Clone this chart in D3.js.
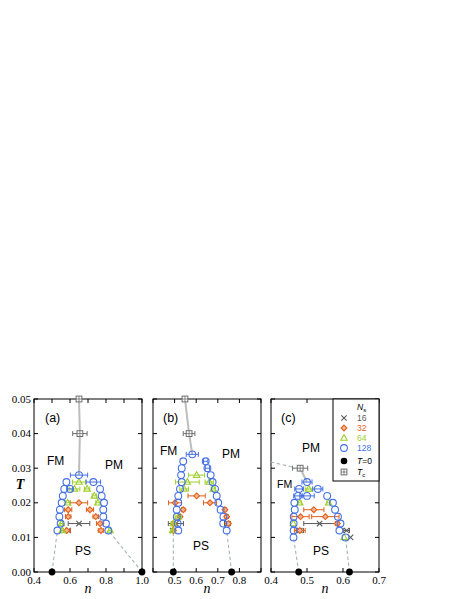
<!DOCTYPE html>
<html><head><meta charset="utf-8">
<script src="https://cdn.jsdelivr.net/npm/d3@7"></script>
<style>body{margin:0;background:#fff}</style>
</head><body>
<svg id="chart" width="463" height="599"></svg>
<script>
// ---------- data ----------
const yTicks = [0, 0.01, 0.02, 0.03, 0.04, 0.05];
const yTickLabels = ["0.00", "0.01", "0.02", "0.03", "0.04", "0.05"];
const panelLabels = ["(a)", "(b)", "(c)"];
const xDomains = [[0.4, 1.0], [0.4, 0.9], [0.4, 0.7]];
const xTickVals = [[0.4,0.5,0.6,0.7,0.8,0.9,1.0],[0.4,0.5,0.6,0.7,0.8,0.9],[0.4,0.5,0.6,0.7]];
const xTickLabeled = [[0.4,0.6,0.8,1.0],[0.5,0.6,0.7,0.8],[0.4,0.5,0.6,0.7]];
const legendSizes = ["16", "32", "64", "128"];

// each point: [n, T, horizontal error]
const a16 = [[0.65,0.014,0.06],[0.59,0.012,0.012]];
const a32 = [[0.65,0.020,0.048],[0.59,0.018,0.02],[0.711,0.018,0.02],[0.59,0.016,0.015],[0.743,0.016,0.015],
             [0.767,0.014,0.02],[0.582,0.012,0.02],[0.772,0.012,0.015]];
const a64 = [[0.65,0.026,0.036],[0.625,0.024,0.03],[0.695,0.024,0.015],[0.735,0.022,0.012],[0.587,0.020,0.012],
             [0.755,0.020,0.012],[0.552,0.014,0.006],[0.557,0.012,0.006],[0.822,0.012,0.006]];
const a128 = [[0.65,0.028,0.048],[0.58,0.026,0],[0.73,0.026,0.04],[0.568,0.024,0],[0.60,0.024,0.015],[0.767,0.024,0],
              [0.56,0.022,0],[0.776,0.022,0],[0.554,0.020,0],[0.789,0.020,0],[0.544,0.018,0],[0.785,0.018,0],
              [0.541,0.016,0],[0.785,0.016,0],[0.548,0.014,0],[0.80,0.014,0],[0.53,0.012,0],[0.813,0.012,0]];
const aTc = [[0.65,0.05,0],[0.655,0.04,0.04]];
const aTcLine = [[0.65,0.05],[0.655,0.04],[0.65,0.028]];
const aT0 = [0.5, 1.0];
const aDash = [[[0.5,0],[0.53,0.012]],[[1.0,0],[0.813,0.012]]];

const b16 = [[0.506,0.014,0.035],[0.745,0.014,0.014],[0.491,0.012,0.005]];
const b32 = [[0.602,0.022,0.04],[0.502,0.020,0.03],[0.664,0.020,0.03],[0.54,0.018,0.008],[0.733,0.018,0.008],
             [0.525,0.016,0.008],[0.741,0.016,0.008],[0.494,0.014,0.008],[0.749,0.014,0.008],[0.495,0.012,0.005]];
const b64 = [[0.602,0.028,0.037],[0.559,0.026,0.055],[0.661,0.026,0.02],[0.544,0.024,0.02],[0.679,0.024,0.01],
             [0.517,0.016,0.015],[0.494,0.014,0.01],[0.491,0.012,0.006]];
const b128 = [[0.582,0.034,0.028],[0.54,0.032,0],[0.644,0.032,0.01],[0.533,0.030,0],[0.652,0.030,0.01],
              [0.53,0.028,0],[0.667,0.028,0],[0.533,0.026,0],[0.676,0.026,0],[0.525,0.024,0],[0.687,0.024,0],
              [0.517,0.022,0],[0.695,0.022,0],[0.517,0.020,0],[0.702,0.020,0],[0.51,0.018,0],[0.713,0.018,0],
              [0.51,0.016,0],[0.726,0.016,0],[0.514,0.014,0],[0.725,0.014,0],[0.517,0.012,0],[0.741,0.012,0]];
const bTc = [[0.548,0.05,0],[0.567,0.04,0.027]];
const bTcLine = [[0.548,0.05],[0.567,0.04],[0.582,0.034]];
const bT0 = [0.494, 0.764];
const bDash = [[[0.494,0],[0.494,0.012]],[[0.764,0],[0.741,0.012]]];

const c16 = [[0.535,0.014,0.044],[0.48,0.012,0.01],[0.61,0.012,0.008],[0.621,0.010,0]];
const c32 = [[0.519,0.018,0.028],[0.482,0.016,0.024],[0.551,0.016,0.038],[0.584,0.014,0.005],[0.48,0.012,0.015]];
const c64 = [[0.505,0.024,0.01],[0.48,0.020,0.005],[0.56,0.020,0.005],[0.462,0.014,0],[0.603,0.010,0]];
const c128 = [[0.50,0.026,0.014],[0.478,0.024,0.012],[0.53,0.024,0.014],[0.475,0.022,0.012],[0.50,0.022,0.02],
              [0.556,0.022,0],[0.465,0.020,0],[0.572,0.020,0],[0.466,0.018,0],[0.578,0.018,0],
              [0.463,0.016,0],[0.586,0.016,0],[0.463,0.014,0],[0.593,0.014,0],[0.463,0.012,0],[0.59,0.012,0],
              [0.4625,0.010,0],[0.607,0.010,0]];
const cTc = [[0.481,0.030,0.021]];
const cTcLine = [[0.481,0.030],[0.50,0.026]];
const cT0 = [0.477, 0.618];
const cDash = [[[0.477,0],[0.4625,0.010]],[[0.618,0],[0.607,0.010]],[[0.40,0.0318],[0.46,0.0303]]];

// ---------- styling / layout ----------
const col = {s16:"#5b5b5b", s32:"#e2601c", s64:"#9fcf2c", s128:"#4470e6", tc:"#6e6e6e", line:"#bdbdbd", dash:"#a7b4b4"};
const plotTop = 399, plotBottom = 572;
const pxRanges = [[34,142],[153,261],[271,379]];
const svg = d3.select("#chart");
const yScale = d3.scaleLinear().domain([0,0.05]).range([plotBottom, plotTop]);

const panels = [
  {s16:a16,s32:a32,s64:a64,s128:a128,tc:aTc,tcLine:aTcLine,t0:aT0,dash:aDash,
   fm:[47,465,12], pm:[105,469,12], ps:[75,555,12], lab:[45,422]},
  {s16:b16,s32:b32,s64:b64,s128:b128,tc:bTc,tcLine:bTcLine,t0:bT0,dash:bDash,
   fm:[160,455,12], pm:[222,458,12], ps:[193,550,12], lab:[163,422]},
  {s16:c16,s32:c32,s64:c64,s128:c128,tc:cTc,tcLine:cTcLine,t0:cT0,dash:cDash,
   fm:[277,488,10.5], pm:[302,452,12], ps:[313,555,12], lab:[281,422]}
];

function marker(g, type, x, y) {
  if (type === "s16") {
    const d = 2.7;
    g.append("path").attr("d", `M${x-d},${y-d}L${x+d},${y+d}M${x-d},${y+d}L${x+d},${y-d}`)
      .attr("stroke", col.s16).attr("stroke-width", 1.1).attr("fill","none");
  } else if (type === "s32") {
    const d = 2.9;
    g.append("path").attr("d", `M${x},${y-d}L${x+d},${y}L${x},${y+d}L${x-d},${y}Z`)
      .attr("stroke", col.s32).attr("stroke-width", 1.1).attr("fill","#f3b48f");
  } else if (type === "s64") {
    const d = 3.4;
    g.append("path").attr("d", `M${x},${y-d}L${x+d*0.95},${y+d*0.65}L${x-d*0.95},${y+d*0.65}Z`)
      .attr("stroke", col.s64).attr("stroke-width", 1.1).attr("fill","none");
  } else if (type === "s128") {
    g.append("circle").attr("cx", x).attr("cy", y).attr("r", 3.4)
      .attr("stroke", col.s128).attr("stroke-width", 1.1).attr("fill","none");
  } else if (type === "tc") {
    const d = 2.9;
    g.append("rect").attr("x", x-d).attr("y", y-d).attr("width", 2*d).attr("height", 2*d)
      .attr("stroke", col.tc).attr("stroke-width", 1).attr("fill","#fff");
    g.append("path").attr("d", `M${x-d},${y}L${x+d},${y}M${x},${y-d}L${x},${y+d}`)
      .attr("stroke", col.tc).attr("stroke-width", 0.8);
  }
}

panels.forEach((p, i) => {
  const [x0, x1] = pxRanges[i];
  const xs = d3.scaleLinear().domain(xDomains[i]).range([x0, x1]);
  const g = svg.append("g");

  g.append("rect").attr("x", x0).attr("y", plotTop).attr("width", x1-x0).attr("height", plotBottom-plotTop)
    .attr("fill","none").attr("stroke","#000").attr("stroke-width",1);

  const tl = 4;
  xTickVals[i].forEach(v => {
    const x = xs(v);
    g.append("line").attr("x1",x).attr("x2",x).attr("y1",plotBottom).attr("y2",plotBottom-tl).attr("stroke","#000");
    g.append("line").attr("x1",x).attr("x2",x).attr("y1",plotTop).attr("y2",plotTop+tl).attr("stroke","#000");
  });
  xTickLabeled[i].forEach(v => {
    g.append("text").attr("x", xs(v)).attr("y", plotBottom+12).attr("text-anchor","middle")
      .attr("font-family","'Liberation Serif','Times New Roman',serif").attr("font-size",11)
      .text(d3.format(".1f")(v));
  });
  yTicks.forEach((v, k) => {
    const y = yScale(v);
    g.append("line").attr("x1",x0).attr("x2",x0+tl).attr("y1",y).attr("y2",y).attr("stroke","#000");
    g.append("line").attr("x1",x1).attr("x2",x1-tl).attr("y1",y).attr("y2",y).attr("stroke","#000");
    if (i === 0) {
      g.append("text").attr("x", x0-3).attr("y", y+3.5).attr("text-anchor","end")
        .attr("font-family","'Liberation Serif','Times New Roman',serif").attr("font-size",11)
        .text(yTickLabels[k]);
    }
  });

  g.append("text").attr("x", (x0+x1)/2).attr("y", 593).attr("text-anchor","middle")
    .attr("font-family","'Liberation Serif',serif").attr("font-style","italic").attr("font-size",14).text("n");

  p.dash.forEach(seg => {
    g.append("path").attr("d", d3.line().x(d=>xs(d[0])).y(d=>yScale(d[1]))(seg))
      .attr("stroke", col.dash).attr("stroke-width",1.1).attr("stroke-dasharray","3.5,2.5").attr("fill","none");
  });
  g.append("path").attr("d", d3.line().x(d=>xs(d[0])).y(d=>yScale(d[1]))(p.tcLine))
    .attr("stroke", col.line).attr("stroke-width",2).attr("fill","none");

  ["s16","s32","s64","s128","tc"].forEach(key => {
    const c = col[key];
    p[key].forEach(([n, T, e]) => {
      const x = xs(n), y = yScale(T);
      if (e > 0) {
        const xa = xs(n-e), xb = xs(n+e);
        g.append("line").attr("x1",xa).attr("x2",xb).attr("y1",y).attr("y2",y).attr("stroke",c).attr("stroke-width",1);
        g.append("line").attr("x1",xa).attr("x2",xa).attr("y1",y-2.5).attr("y2",y+2.5).attr("stroke",c).attr("stroke-width",1);
        g.append("line").attr("x1",xb).attr("x2",xb).attr("y1",y-2.5).attr("y2",y+2.5).attr("stroke",c).attr("stroke-width",1);
      }
      marker(g, key, x, y);
    });
  });

  p.t0.forEach(n => {
    g.append("circle").attr("cx", xs(n)).attr("cy", yScale(0)).attr("r", 3.4).attr("fill","#000");
  });

  const sans = "'Liberation Sans',Arial,Helvetica,sans-serif";
  [["FM",p.fm],["PM",p.pm],["PS",p.ps]].forEach(([t, pos]) => {
    g.append("text").attr("x",pos[0]).attr("y",pos[1]).attr("font-family",sans).attr("font-size",pos[2]).text(t);
  });
  g.append("text").attr("x",p.lab[0]).attr("y",p.lab[1]).attr("font-family",sans).attr("font-size",12.5).text(panelLabels[i]);
});

svg.append("text").attr("x", 20).attr("y", 489).attr("text-anchor","middle")
  .attr("font-family","'Liberation Serif',serif").attr("font-style","italic").attr("font-weight","bold")
  .attr("font-size",14).text("T");

const lg = svg.append("g");
lg.append("rect").attr("x",333).attr("y",plotTop).attr("width",379-333).attr("height",82)
  .attr("fill","#fff").attr("stroke","#000").attr("stroke-width",1);
const lsans = "'Liberation Sans',Arial,sans-serif";
const ns = lg.append("text").attr("x",357).attr("y",410).attr("font-family",lsans).attr("font-size",8.5);
ns.append("tspan").attr("font-style","italic").text("N");
ns.append("tspan").attr("font-size",6).attr("dy",2).text("s");
const legKeys = ["s16","s32","s64","s128"];
legKeys.forEach((k, j) => {
  const y = 418 + j*10;
  marker(lg, k, 344, y);
  lg.append("text").attr("x",357).attr("y",y+3).attr("font-family",lsans).attr("font-size",8.5)
    .attr("fill",col[k]).text(legendSizes[j]);
});
lg.append("circle").attr("cx",344).attr("cy",461).attr("r",3.3).attr("fill","#000");
const t0t = lg.append("text").attr("x",357).attr("y",464).attr("font-family",lsans).attr("font-size",8.5);
t0t.append("tspan").attr("font-style","italic").text("T");
t0t.append("tspan").text("=0");
marker(lg, "tc", 344, 472);
const tct = lg.append("text").attr("x",357).attr("y",475).attr("font-family",lsans).attr("font-size",8.5);
tct.append("tspan").attr("font-style","italic").text("T");
tct.append("tspan").attr("font-size",6).attr("dy",2).text("c");
</script>
</body></html>
